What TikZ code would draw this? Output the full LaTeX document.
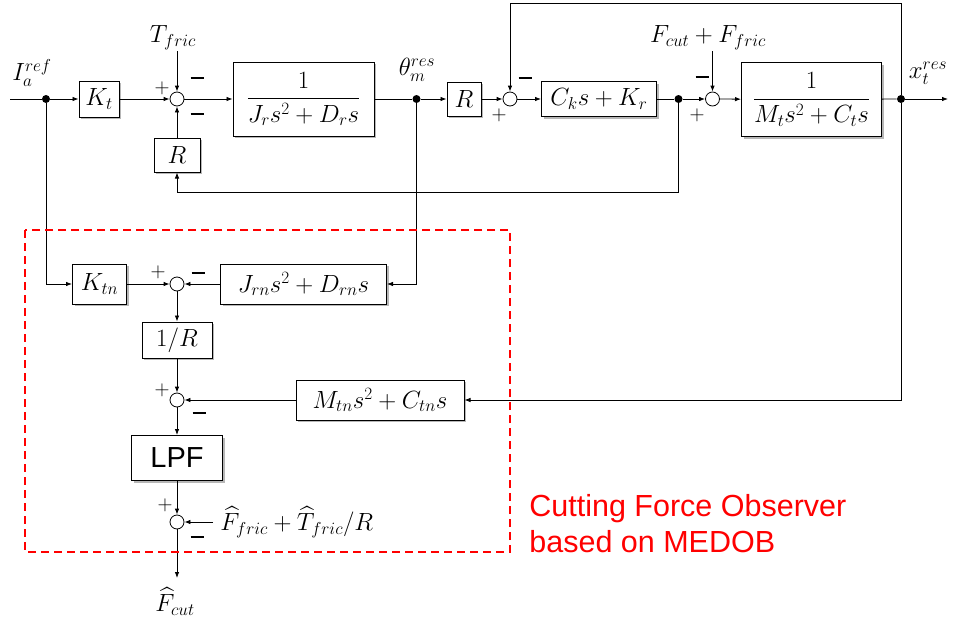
\documentclass[tikz,border=0pt]{standalone}
\usepackage{amsmath}
\usepackage{fontspec}
\setsansfont{Liberation Sans}
\usetikzlibrary{arrows.meta,shadows}

\newcommand{\msign}{\rule{13pt}{2.6pt}}
\tikzset{
  blk/.style={draw, fill=white, line width=1pt, inner sep=2pt,
    drop shadow={shadow xshift=2pt, shadow yshift=-2pt, fill=black!70, opacity=0.4},
    font=\fontsize{26}{30}\selectfont},
  sumc/.style={draw, circle, fill=white, line width=0.8pt, minimum size=14pt, inner sep=0pt},
  jdot/.style={circle, fill=black, minimum size=8pt, inner sep=0pt},
  lbl/.style={inner sep=1pt, font=\fontsize{26}{30}\selectfont},
  sgnp/.style={inner sep=0pt, font=\fontsize{22}{24}\selectfont},
  sgnm/.style={inner sep=0pt},
}

\begin{document}
\begin{tikzpicture}[x=1pt, y=-1pt, line width=0.8pt, >={Latex[length=6pt,width=4.5pt]}]
    \useasboundingbox (0,0) rectangle (954,624);

    % 主回路（上一行）
    \coordinate (in) at (10,99);
    \node[jdot] (d1) at (46,99) {};
    \node[blk, minimum width=40pt, minimum height=36pt] (Kt) at (99,99) {$K_t$};
    \node[sumc] (s1) at (177,99) {};
    \node[blk, minimum width=141pt, minimum height=74pt] (Gr) at (303.5,99) {$\displaystyle\frac{1}{J_r s^2 + D_r s}$};
    \node[jdot] (d2) at (416.5,99) {};
    \node[blk, minimum width=34pt, minimum height=34pt] (Rb) at (464,99) {$R$};
    \node[sumc] (s2) at (510,99) {};
    \node[blk, minimum width=115pt, minimum height=35pt] (Ck) at (599,99) {$C_k s + K_r$};
    \node[jdot] (d3) at (678.5,99) {};
    \node[sumc] (s3) at (712.5,99) {};
    \node[blk, minimum width=140pt, minimum height=74pt] (Gt) at (811.5,99.5) {$\displaystyle\frac{1}{M_t s^2 + C_t s}$};
    \node[jdot] (d4) at (901,99) {};
    \coordinate (out) at (948,99);
    \node[blk, minimum width=46pt, minimum height=34pt] (Rf) at (177,155) {$R$};
    \coordinate (bk) at (177,192);
    \coordinate (tp) at (510,3);

    % 信号标注
    \node[lbl] (Ia) at (32,73) {$I_a^{ref}$};
    \node[lbl] (Tf) at (173,38) {$T_{fric}$};
    \node[lbl] (th) at (417,70) {$\theta_m^{res}$};
    \node[lbl] (Ff) at (708,38) {$F_{cut} + F_{fric}$};
    \node[lbl] (xt) at (928,73) {$x_t^{res}$};

    % 加减号
    \node[sgnp] (p1) at (162,88) {$+$};
    \node[sgnm] (m1) at (197,78) {\msign};
    \node[sgnm] (m1b) at (197,114) {\msign};
    \node[sgnm] (m2) at (525,78) {\msign};
    \node[sgnp] (p2) at (499,115) {$+$};
    \node[sgnm] (m3) at (702,77) {\msign};
    \node[sgnp] (p3) at (697,115) {$+$};

    % 主回路连线
    \draw (in) -- (d1);
    \draw[->] (d1) -- (Kt);
    \draw[->] (Kt) -- (s1);
    \draw[->] (s1) -- (Gr);
    \draw (Gr) -- (d2);
    \draw[->] (d2) -- (Rb);
    \draw[->] (Rb) -- (s2);
    \draw[->] (s2) -- (Ck);
    \draw (Ck) -- (d3);
    \draw[->] (d3) -- (s3);
    \draw[->] (s3) -- (Gt);
    \draw (Gt) -- (d4);
    \draw[->] (d4) -- (out);
    \draw[->] (d4) |- (tp) -- (s2);
    \draw[->] (d3) |- (bk) -- (Rf);
    \draw[->] (Rf) -- (s1);
    \draw[->] (Tf.south -| s1) -- (s1);
    \draw[->] (Ff.south -| s3) -- (s3);

    % 切削力观测器（MEDOB）
    \node[blk, minimum width=54pt, minimum height=40pt] (Ktn) at (99.5,284) {$K_{tn}$};
    \node[sumc] (s4) at (177,284) {};
    \node[blk, minimum width=166pt, minimum height=40pt] (Jrn) at (303.5,284) {$J_{rn} s^2 + D_{rn} s$};
    \node[blk, minimum width=70pt, minimum height=36pt] (Ri) at (177,340) {$1/R$};
    \node[sumc] (s5) at (177,400) {};
    \node[blk, minimum width=168pt, minimum height=40pt] (Mtn) at (380,400) {$M_{tn} s^2 + C_{tn} s$};
    \node[blk, font=\fontsize{29}{32}\selectfont\sffamily, minimum width=91pt, minimum height=45pt] (LPF) at (177,458) {LPF};
    \node[sumc] (s6) at (177,522) {};
    \node[anchor=west, inner sep=0pt, inner xsep=7pt, font=\fontsize{24.5}{28}\selectfont] (Fh) at (213,522) {$\widehat{F}_{fric} + \widehat{T}_{fric}/R$};
    \coordinate (fe) at (177,578);
    \node[anchor=north, inner sep=0pt, font=\fontsize{26}{28}\selectfont] (Fc) at (175,587) {$\widehat{F}_{cut}$};

    \node[sgnp] (p4) at (158,272) {$+$};
    \node[sgnm] (m4) at (198,273) {\msign};
    \node[sgnp] (p5) at (162,390) {$+$};
    \node[sgnm] (m5) at (199,413) {\msign};
    \node[sgnp] (p6) at (165,505) {$+$};
    \node[sgnm] (m6) at (197,537) {\msign};

    \draw[->] (d1) |- (Ktn);
    \draw[->] (Ktn) -- (s4);
    \draw[->] (d2) |- (Jrn);
    \draw[->] (Jrn) -- (s4);
    \draw[->] (s4) -- (Ri);
    \draw[->] (Ri) -- (s5);
    \draw[->] (d4) |- (Mtn);
    \draw[->] (Mtn) -- (s5);
    \draw[->] (s5) -- (LPF);
    \draw[->] (LPF) -- (s6);
    \draw[->] (Fh) -- (s6);
    \draw[->] (s6) -- (fe);

    % 观测器边框与说明
    \draw[red, line width=1.5pt, dash pattern=on 8pt off 5pt] (25,230) rectangle (510,552);
    \node[anchor=north west, inner sep=0pt, text=red, align=left,
          font=\fontsize{30.5}{36}\selectfont\sffamily] (obs) at (529,494) {Cutting Force Observer\\based on MEDOB};
\end{tikzpicture}
\end{document}
